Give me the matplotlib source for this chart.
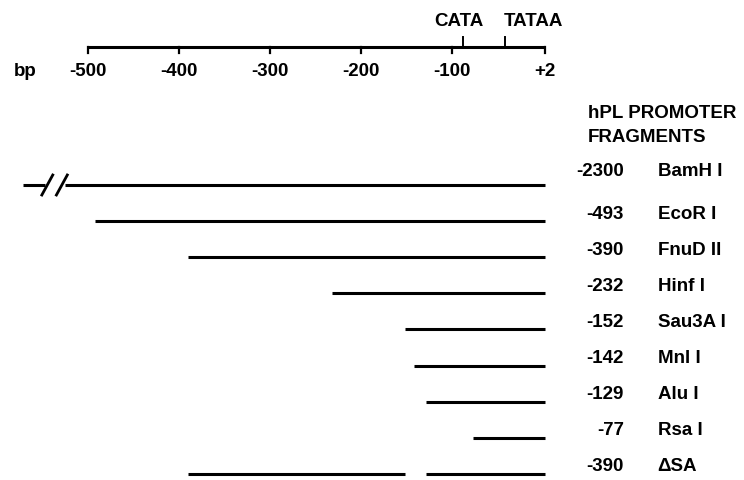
import matplotlib
matplotlib.use('Agg')
import matplotlib.pyplot as plt

plt.rcParams['font.family'] = ['Liberation Sans Narrow', 'Liberation Sans', 'DejaVu Sans']
plt.rcParams['font.weight'] = 'bold'

# ------------------------------
# data
# ------------------------------
axis_ticks = [-500, -400, -300, -200, -100, 2]
axis_labels = ['-500', '-400', '-300', '-200', '-100', '+2']
elements = ['CATA', 'TATAA']
element_pos = [-88, -42]

enzymes = ['BamH I', 'EcoR I', 'FnuD II', 'Hinf I', 'Sau3A I', 'Mnl I', 'Alu I', 'Rsa I', '\u0394SA']
starts = [-2300, -493, -390, -232, -152, -142, -129, -77, -390]
start_labels = ['-2300', '-493', '-390', '-232', '-152', '-142', '-129', '-77', '-390']
end = 2
dsa_gap = (-152, -129)   # deleted Sau3A-Alu region in the deltaSA fragment

# ------------------------------
# layout (x in bp, y in pixels from top)
# ------------------------------
x_left, x_right = -597, 221     # bp shown across the figure width
axis_y = 47
row_y0 = 185
row_dy = 36.1
lab_num_x = 89
lab_name_x = 126
break_x = -572                  # start of the broken BamH I line
lw = 2.2
fs = 13.5

fig = plt.figure(figsize=(7.44, 4.8), dpi=100)
ax = fig.add_axes([0, 0, 1, 1])
ax.set_xlim(x_left, x_right)
ax.set_ylim(480, 0)
ax.axis('off')

# scale bar
ax.plot([axis_ticks[0], axis_ticks[-1]], [axis_y, axis_y], color='black', lw=lw, solid_capstyle='butt')
for t, lab in zip(axis_ticks, axis_labels):
    ax.plot([t, t], [axis_y, axis_y + 6], color='black', lw=1.6)
    ax.text(t, 72, lab, ha='center', va='center', fontsize=fs)
ax.text(-569, 72, 'bp', ha='center', va='center', fontsize=fs)

for name, p in zip(elements, element_pos):
    ax.plot([p, p], [axis_y, axis_y - 10], color='black', lw=1.4)
ax.text(-93, 22, elements[0], ha='center', va='center', fontsize=fs)
ax.text(-11, 22, elements[1], ha='center', va='center', fontsize=fs)

# header
ax.text(49, 113, 'hPL PROMOTER', ha='left', va='center', fontsize=fs)
ax.text(49, 137, 'FRAGMENTS', ha='left', va='center', fontsize=fs)

# fragments
for i, (name, s, sl) in enumerate(zip(enzymes, starts, start_labels)):
    y = row_y0 + row_dy * i
    if s < x_left + 30:
        # broken line for the long BamH I fragment
        ax.plot([break_x, -548], [y, y], color='black', lw=lw, solid_capstyle='butt')
        ax.plot([-525, end], [y, y], color='black', lw=lw, solid_capstyle='butt')
        for bx in (-545, -529):
            ax.plot([bx - 6, bx + 6], [y + 10, y - 10], color='black', lw=2.0)
        ty = y - 14
    elif name == '\u0394SA':
        ax.plot([s, dsa_gap[0]], [y, y], color='black', lw=lw, solid_capstyle='butt')
        ax.plot([dsa_gap[1], end], [y, y], color='black', lw=lw, solid_capstyle='butt')
        ty = y - 7
    else:
        ax.plot([s, end], [y, y], color='black', lw=lw, solid_capstyle='butt')
        ty = y - 7
    ax.text(lab_num_x, ty, sl, ha='right', va='center', fontsize=fs)
    ax.text(lab_name_x, ty, name, ha='left', va='center', fontsize=fs)

fig.savefig('out.png', dpi=100, facecolor='white')
